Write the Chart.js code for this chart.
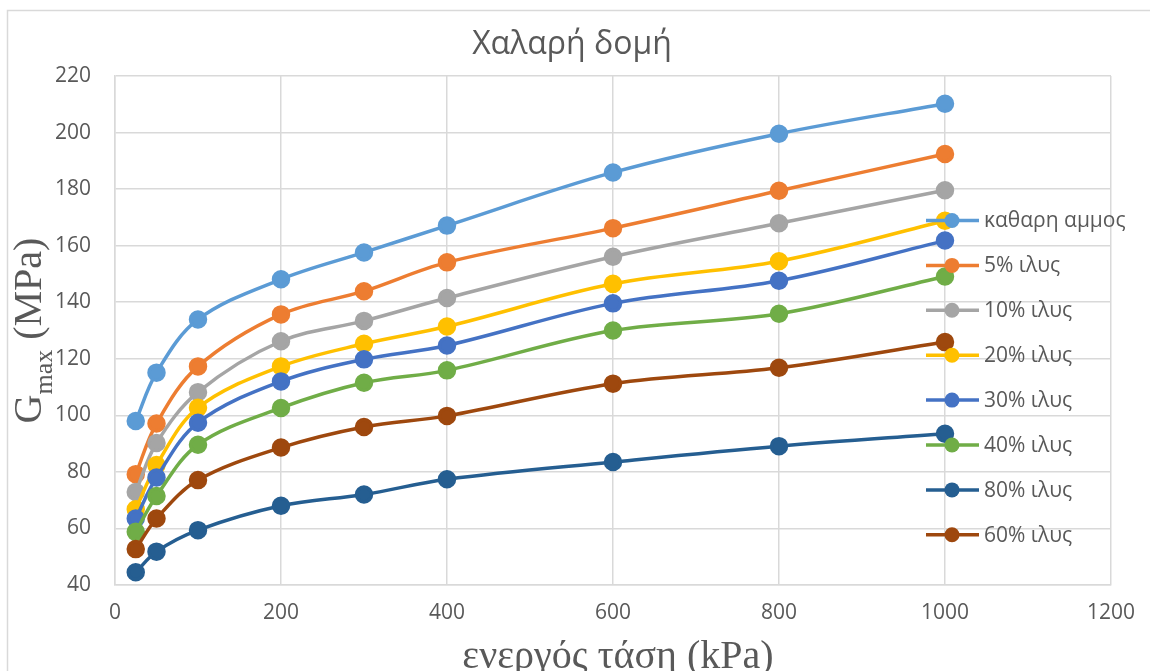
<!DOCTYPE html>
<html>
<head>
<meta charset="utf-8">
<script src="https://cdn.jsdelivr.net/npm/chart.js@4.4.1/dist/chart.umd.min.js"></script>
<style>
  html, body { margin: 0; padding: 0; background: #ffffff; }
  #wrap { width: 1150px; height: 671px; }
</style>
</head>
<body>
<div id="wrap"><canvas id="chart" width="1150" height="671"></canvas></div>
<script>
// Effective stress (kPa) at which Gmax was measured
const stress = [25, 50, 100, 200, 300, 400, 600, 800, 1000];

// Gmax (MPa) for each soil mixture, loose structure
const pureSand = [98.0, 115.1, 133.9, 148.1, 157.6, 167.1, 185.9, 199.6, 210.2];
const silt5    = [79.2, 97.1, 117.3, 135.7, 143.9, 154.1, 166.2, 179.4, 192.4];
const silt10   = [72.9, 90.2, 108.2, 126.2, 133.4, 141.5, 156.1, 167.9, 179.6];
const silt20   = [66.8, 82.4, 102.7, 117.3, 125.3, 131.4, 146.5, 154.5, 168.8];
const silt30   = [63.5, 78.0, 97.4, 112.0, 119.8, 124.7, 139.6, 147.6, 161.8];
const silt40   = [58.8, 71.5, 89.6, 102.6, 111.5, 115.9, 130.0, 135.9, 149.1];
const silt80   = [44.5, 51.8, 59.4, 68.0, 72.0, 77.4, 83.5, 89.1, 93.5];
const silt60   = [52.7, 63.5, 77.1, 88.6, 95.9, 99.8, 111.2, 116.8, 125.9];

const seriesNames  = ['καθαρη αμμος', '5% ιλυς', '10% ιλυς', '20% ιλυς', '30% ιλυς', '40% ιλυς', '80% ιλυς', '60% ιλυς'];
const seriesValues = [pureSand, silt5, silt10, silt20, silt30, silt40, silt80, silt60];
const seriesColors = ['#5B9BD5', '#ED7D31', '#A5A5A5', '#FFC000', '#4472C4', '#70AD47', '#255E91', '#9E480E'];

// Axis ranges and labels
const xMin = 0, xMax = 1200, xStep = 200;
const yMin = 40, yMax = 220, yStep = 20;
const chartTitle = 'Χαλαρή δομή';
const xTitle = 'ενεργός τάση (kPa)';
const yTitleMain = 'G';
const yTitleSub = 'max';
const yTitleRest = ' (MPa)';

const textGrey = '#595959';
const gridGrey = '#D9D9D9';
const sansFont = "'Open Sans', 'Noto Sans', sans-serif";
const serifFont = "'Liberation Serif', 'DejaVu Serif', serif";

const datasets = seriesNames.map((name, i) => ({
  label: name,
  data: stress.map((s, j) => ({ x: s, y: seriesValues[i][j] })),
  borderColor: seriesColors[i],
  backgroundColor: seriesColors[i],
  pointBackgroundColor: seriesColors[i],
  pointBorderColor: seriesColors[i],
  pointRadius: 7.5,
  pointHoverRadius: 7.5,
  borderWidth: 3.5,
  tension: 0.35,
  showLine: true,
  fill: false,
  order: -i          // later series drawn on top
}));

// Frame, titles and the legend drawn around the plot
const decorations = {
  id: 'decorations',
  beforeDraw(chart) {
    const ctx = chart.ctx;
    ctx.save();
    ctx.fillStyle = '#ffffff';
    ctx.fillRect(0, 0, chart.width, chart.height);
    ctx.strokeStyle = gridGrey;
    ctx.lineWidth = 1.5;
    ctx.beginPath();
    ctx.moveTo(7.5, chart.height);
    ctx.lineTo(7.5, 10.5);
    ctx.lineTo(chart.width, 10.5);
    ctx.stroke();
    ctx.restore();
  },
  afterDraw(chart) {
    const ctx = chart.ctx;
    const area = chart.chartArea;
    ctx.save();
    ctx.fillStyle = textGrey;

    // chart title
    ctx.font = `32px ${sansFont}`;
    ctx.textAlign = 'center';
    ctx.textBaseline = 'alphabetic';
    ctx.fillText(chartTitle, 572, 54);

    // x axis title
    ctx.font = `40px ${serifFont}`;
    ctx.fillText(xTitle, (area.left + area.right) / 2 + 5, 668);

    // y axis title with subscript
    ctx.save();
    ctx.translate(41, (area.top + area.bottom) / 2);
    ctx.rotate(-Math.PI / 2);
    ctx.textAlign = 'left';
    const mainFont = `40px ${serifFont}`;
    const subFont = `26px ${serifFont}`;
    ctx.font = mainFont;
    const wG = ctx.measureText(yTitleMain).width;
    const wRest = ctx.measureText(yTitleRest).width;
    ctx.font = subFont;
    const wSub = ctx.measureText(yTitleSub).width;
    let x0 = -(wG + wSub + wRest) / 2;
    ctx.font = mainFont;
    ctx.fillText(yTitleMain, x0, 0);
    ctx.font = subFont;
    ctx.fillText(yTitleSub, x0 + wG, 11);
    ctx.font = mainFont;
    ctx.fillText(yTitleRest, x0 + wG + wSub, 0);
    ctx.restore();

    // legend
    ctx.font = `21px ${sansFont}`;
    ctx.textAlign = 'left';
    ctx.textBaseline = 'middle';
    chart.data.datasets.forEach((ds, i) => {
      const y = 220.5 + i * 44.9;
      ctx.strokeStyle = ds.borderColor;
      ctx.lineWidth = 3.5;
      ctx.beginPath();
      ctx.moveTo(926, y);
      ctx.lineTo(979, y);
      ctx.stroke();
      ctx.fillStyle = ds.borderColor;
      ctx.beginPath();
      ctx.arc(952, y, 7.5, 0, Math.PI * 2);
      ctx.fill();
      ctx.fillStyle = textGrey;
      ctx.fillText(ds.label, 984, y + 1);
    });
    ctx.restore();
  }
};

new Chart(document.getElementById('chart'), {
  type: 'scatter',
  data: { datasets },
  options: {
    responsive: false,
    animation: false,
    devicePixelRatio: 1,
    layout: { padding: { left: 0, right: 37, top: 76, bottom: 0 } },
    plugins: {
      legend: { display: false },
      title: { display: false },
      tooltip: { enabled: false }
    },
    scales: {
      x: {
        type: 'linear',
        min: xMin, max: xMax,
        afterFit(scale) { scale.height = 86; },
        ticks: {
          stepSize: xStep,
          color: textGrey,
          font: { family: sansFont, size: 21 },
          padding: 15,
          callback: (v) => String(v)
        },
        grid: { color: gridGrey, lineWidth: 1.5, drawTicks: false },
        border: { color: gridGrey, width: 1.5 }
      },
      y: {
        type: 'linear',
        min: yMin, max: yMax,
        afterFit(scale) { scale.width = 115; },
        ticks: {
          stepSize: yStep,
          color: textGrey,
          font: { family: sansFont, size: 21 },
          padding: 24,
          callback: (v) => String(v)
        },
        grid: { color: gridGrey, lineWidth: 1.5, drawTicks: false },
        border: { color: gridGrey, width: 1.5 }
      }
    }
  },
  plugins: [decorations]
});
</script>
</body>
</html>
